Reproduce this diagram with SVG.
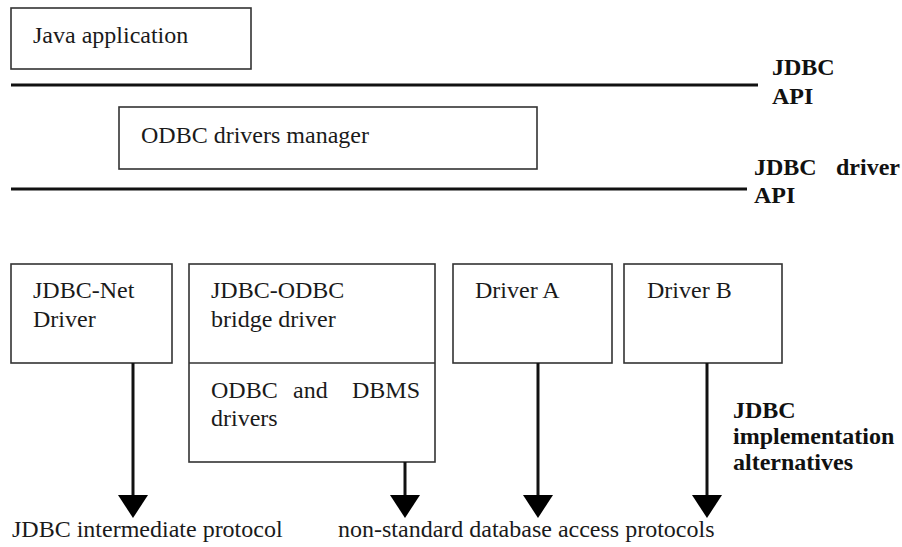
<svg xmlns="http://www.w3.org/2000/svg" width="902" height="547" viewBox="0 0 902 547" font-family="Liberation Serif, DejaVu Serif, serif" font-size="24">
  <defs>
    <style>
      text { font-size: 24px; fill: #1a1a1a; }
      .bold { font-weight: bold; fill: #111; }
      .box { fill: #fff; stroke: #333; stroke-width: 1.6; }
      .api { stroke: #111; stroke-width: 3; fill: none; }
      .flow { stroke: #111; stroke-width: 3; fill: none; }
      .head { fill: #000; }
    </style>
  </defs>
  <rect width="902" height="547" fill="#fff"/>

  <!-- API layers -->
  <g id="layers" font-family="Liberation Serif, serif">
    <line class="api" x1="11" y1="85" x2="758" y2="85"/>
    <line class="api" x1="11" y1="189" x2="747" y2="189"/>
    <text class="bold" x="772" y="75">JDBC</text>
    <text class="bold" x="772" y="104">API</text>
    <text class="bold" x="754" y="175">JDBC</text>
    <text class="bold" x="836" y="175">driver</text>
    <text class="bold" x="754" y="203">API</text>
  </g>

  <g id="java-application" font-family="Liberation Serif, serif">
    <rect class="box" x="11" y="8" width="240" height="61"/>
    <text x="33" y="43">Java application</text>
  </g>

  <g id="odbc-manager" font-family="Liberation Serif, serif">
    <rect class="box" x="119" y="107" width="418" height="62"/>
    <text x="141" y="143">ODBC drivers manager</text>
  </g>

  <g id="jdbc-net-driver" font-family="Liberation Serif, serif">
    <rect class="box" x="11" y="264" width="161" height="99"/>
    <text x="33" y="298">JDBC-Net</text>
    <text x="33" y="327">Driver</text>
  </g>

  <g id="jdbc-odbc-bridge" font-family="Liberation Serif, serif">
    <rect class="box" x="189" y="264" width="246" height="198"/>
    <line class="box" x1="189" y1="363" x2="435" y2="363"/>
    <text x="211" y="298">JDBC-ODBC</text>
    <text x="211" y="327">bridge driver</text>
    <text y="398"><tspan x="211">ODBC</tspan><tspan x="293">and</tspan><tspan x="352">DBMS</tspan></text>
    <text x="211" y="426">drivers</text>
  </g>

  <g id="driver-a" font-family="Liberation Serif, serif">
    <rect class="box" x="453" y="264" width="159" height="99"/>
    <text x="475" y="298">Driver A</text>
  </g>

  <g id="driver-b" font-family="Liberation Serif, serif">
    <rect class="box" x="624" y="264" width="158" height="99"/>
    <text x="647" y="298">Driver B</text>
  </g>

  <!-- Connectors to the protocols -->
  <g id="connectors">
    <line class="flow" x1="133" y1="363" x2="133" y2="497"/>
    <polygon class="head" points="118,495 148,495 133,518"/>
    <line class="flow" x1="405" y1="462" x2="405" y2="497"/>
    <polygon class="head" points="390,495 420,495 405,518"/>
    <line class="flow" x1="538" y1="363" x2="538" y2="497"/>
    <polygon class="head" points="523,495 553,495 538,518"/>
    <line class="flow" x1="707" y1="363" x2="707" y2="497"/>
    <polygon class="head" points="692,495 722,495 707,518"/>
  </g>

  <g id="labels" font-family="Liberation Serif, serif">
    <text class="bold" x="733" y="418">JDBC</text>
    <text class="bold" x="733" y="444">implementation</text>
    <text class="bold" x="733" y="470">alternatives</text>
    <text x="12" y="537">JDBC intermediate protocol</text>
    <text x="338" y="537">non-standard database access protocols</text>
  </g>
</svg>
